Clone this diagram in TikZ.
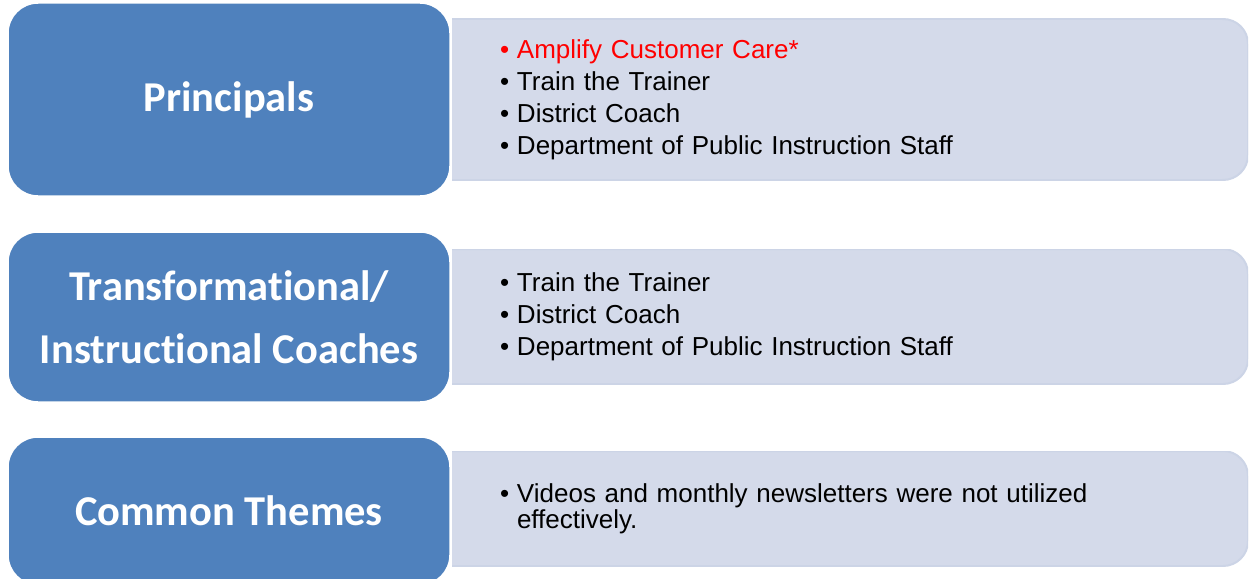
\documentclass[tikz,border=0pt]{standalone}
\usepackage{fontspec}
\setmainfont{Liberation Sans}
\newfontfamily\headfont[Ligatures=NoCommon]{Carlito}
\usepackage{tikz}
\usetikzlibrary{positioning}
\definecolor{HeadBlue}{RGB}{79,129,189}
\definecolor{PaneFill}{RGB}{212,218,234}
\definecolor{PaneEdge}{RGB}{204,212,230}
\definecolor{CareRed}{RGB}{255,0,0}
\newcommand{\bul}[2][black]{{\color{#1}\makebox[17pt][l]{•}\parbox[t]{660pt}{#2}}}

\begin{document}
\begin{tikzpicture}[x=1pt, y=-1pt,
            head/.style={rectangle, rounded corners=30pt, fill=HeadBlue,
                         draw=white, line width=1.5pt,
                         minimum width=442pt, align=center, text=white,
                         font=\headfont\bfseries\fontsize{42.5}{63}\selectfont},
            pane/.style={rectangle, minimum width=796pt, inner sep=0pt,
                         text width=700pt, align=left,
                         font=\fontsize{26}{32}\selectfont,
                         path picture={
                           \fill[PaneFill, draw=PaneEdge, line width=2pt, rounded corners=25pt]
                             ([xshift=-60pt]path picture bounding box.south west)
                             rectangle (path picture bounding box.north east);}}
          ]
          \useasboundingbox (0,0) rectangle (1249,578);

          % Principals
          \node[pane, minimum height=161pt] (pane1) at (850, 99.5)
                {\bul[CareRed]{Amplify Customer Care*}\\
                 \bul{Train the Trainer}\\
                 \bul{District Coach}\\
                 \bul{Department of Public Instruction Staff}};
          \node[head, minimum height=193pt] (head1) at (229, 99.5) {Principals};

          % Coaches
          \node[pane, minimum height=135pt] (pane2) at (850, 316.5)
                {\bul{Train the Trainer}\\
                 \bul{District Coach}\\
                 \bul{Department of Public Instruction Staff}};
          \node[head, minimum height=170pt] (head2) at (229, 317)
                {Transformational/\\Instructional Coaches};

          % Common themes
          \node[pane, minimum height=115pt, font=\fontsize{26}{26}\selectfont] (pane3) at (850, 508.5)
                {\bul{Videos and monthly newsletters were not utilized\\effectively.}};
          \node[head, minimum height=148pt] (head3) at (229, 511) {Common Themes};
        \end{tikzpicture}
\end{document}
